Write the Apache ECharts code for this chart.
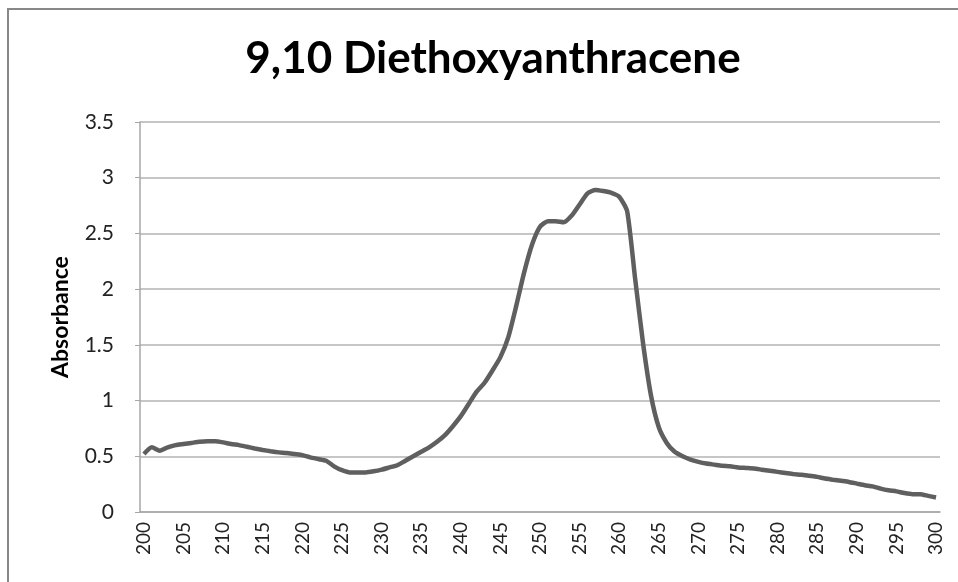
<!doctype html>
<html>
<head>
<meta charset="UTF-8">
<title>9,10 Diethoxyanthracene</title>
<script src="https://cdn.jsdelivr.net/npm/echarts@6/dist/echarts.min.js"></script>
<style>
  html, body { margin: 0; padding: 0; background: #fff; }
  #main { width: 958px; height: 582px; }
</style>
</head>
<body>
<div id="main"></div>
<script>
// wavelength range (nm), one point per nm
var startNm = 200;
var endNm = 300;
var wavelengths = [];
for (var w = startNm; w <= endNm; w++) {
    wavelengths.push(String(w));
}

// absorbance, 200..300 nm
var absorbance = [
    0.52, 0.58, 0.55, 0.58, 0.60, 0.61, 0.62, 0.63, 0.635, 0.635,   // 200-209
    0.625, 0.61, 0.60, 0.585, 0.57, 0.557, 0.545, 0.535, 0.53, 0.52, // 210-219
    0.51, 0.49, 0.475, 0.46, 0.41, 0.375, 0.355, 0.355, 0.355, 0.365, // 220-229
    0.38, 0.40, 0.42, 0.46, 0.50, 0.54, 0.58, 0.63, 0.69, 0.77,      // 230-239
    0.86, 0.97, 1.08, 1.16, 1.27, 1.39, 1.57, 1.85, 2.15, 2.40,      // 240-249
    2.56, 2.61, 2.61, 2.60, 2.66, 2.76, 2.86, 2.89, 2.88, 2.865,     // 250-259
    2.83, 2.70, 2.10, 1.52, 1.05, 0.76, 0.62, 0.54, 0.50, 0.47,      // 260-269
    0.45, 0.435, 0.425, 0.415, 0.41, 0.40, 0.395, 0.39, 0.38, 0.37,  // 270-279
    0.36, 0.35, 0.34, 0.335, 0.325, 0.315, 0.30, 0.29, 0.28, 0.27,   // 280-289
    0.255, 0.24, 0.23, 0.21, 0.195, 0.185, 0.17, 0.16, 0.16, 0.145,  // 290-299
    0.13                                                             // 300
];

var chartTitle = '9,10 Diethoxyanthracene';
var yName = 'Absorbance';

var myChart = echarts.init(document.getElementById('main'));

var option = {
    animation: false,
    backgroundColor: '#fff',
    title: {
        text: chartTitle,
        left: 488,
        textAlign: 'center',
        top: 32,
        textStyle: {
            fontFamily: 'Lato',
            fontWeight: 'bold',
            fontSize: 44,
            color: '#000'
        }
    },
    // outer chart frame (only top and left edges show)
    graphic: [{
        type: 'rect',
        shape: { x: 8, y: 9, width: 1000, height: 1000 },
        style: { fill: null, stroke: '#888', lineWidth: 2 },
        silent: true
    }],
    grid: {
        left: 140,
        right: 18,
        top: 122,
        bottom: 70
    },
    xAxis: {
        type: 'category',
        boundaryGap: true,
        data: wavelengths,
        axisLine: { show: true, lineStyle: { color: '#a6a6a6', width: 1.5 } },
        axisTick: { show: false },
        axisLabel: {
            interval: 4,
            rotate: 90,
            margin: 10,
            fontFamily: 'Lato',
            fontSize: 19,
            color: '#222'
        },
        splitLine: { show: false }
    },
    yAxis: {
        type: 'value',
        min: 0,
        max: 3.5,
        interval: 0.5,
        name: yName,
        nameLocation: 'middle',
        nameGap: 68,
        nameTextStyle: {
            fontFamily: 'Lato',
            fontWeight: 'bold',
            fontSize: 23,
            color: '#000'
        },
        axisLine: { show: true, lineStyle: { color: '#a6a6a6', width: 1.5 } },
        axisTick: { show: true, length: 5, lineStyle: { color: '#a6a6a6' } },
        axisLabel: {
            margin: 26,
            fontFamily: 'Lato',
            fontSize: 21,
            color: '#222'
        },
        splitLine: { show: true, lineStyle: { color: '#b3b3b3', width: 1.5 } }
    },
    series: [{
        name: yName,
        type: 'line',
        data: absorbance,
        symbol: 'none',
        smooth: 0.2,
        lineStyle: { color: '#5f5f5f', width: 4.5 }
    }]
};

myChart.setOption(option);
</script>
</body>
</html>
